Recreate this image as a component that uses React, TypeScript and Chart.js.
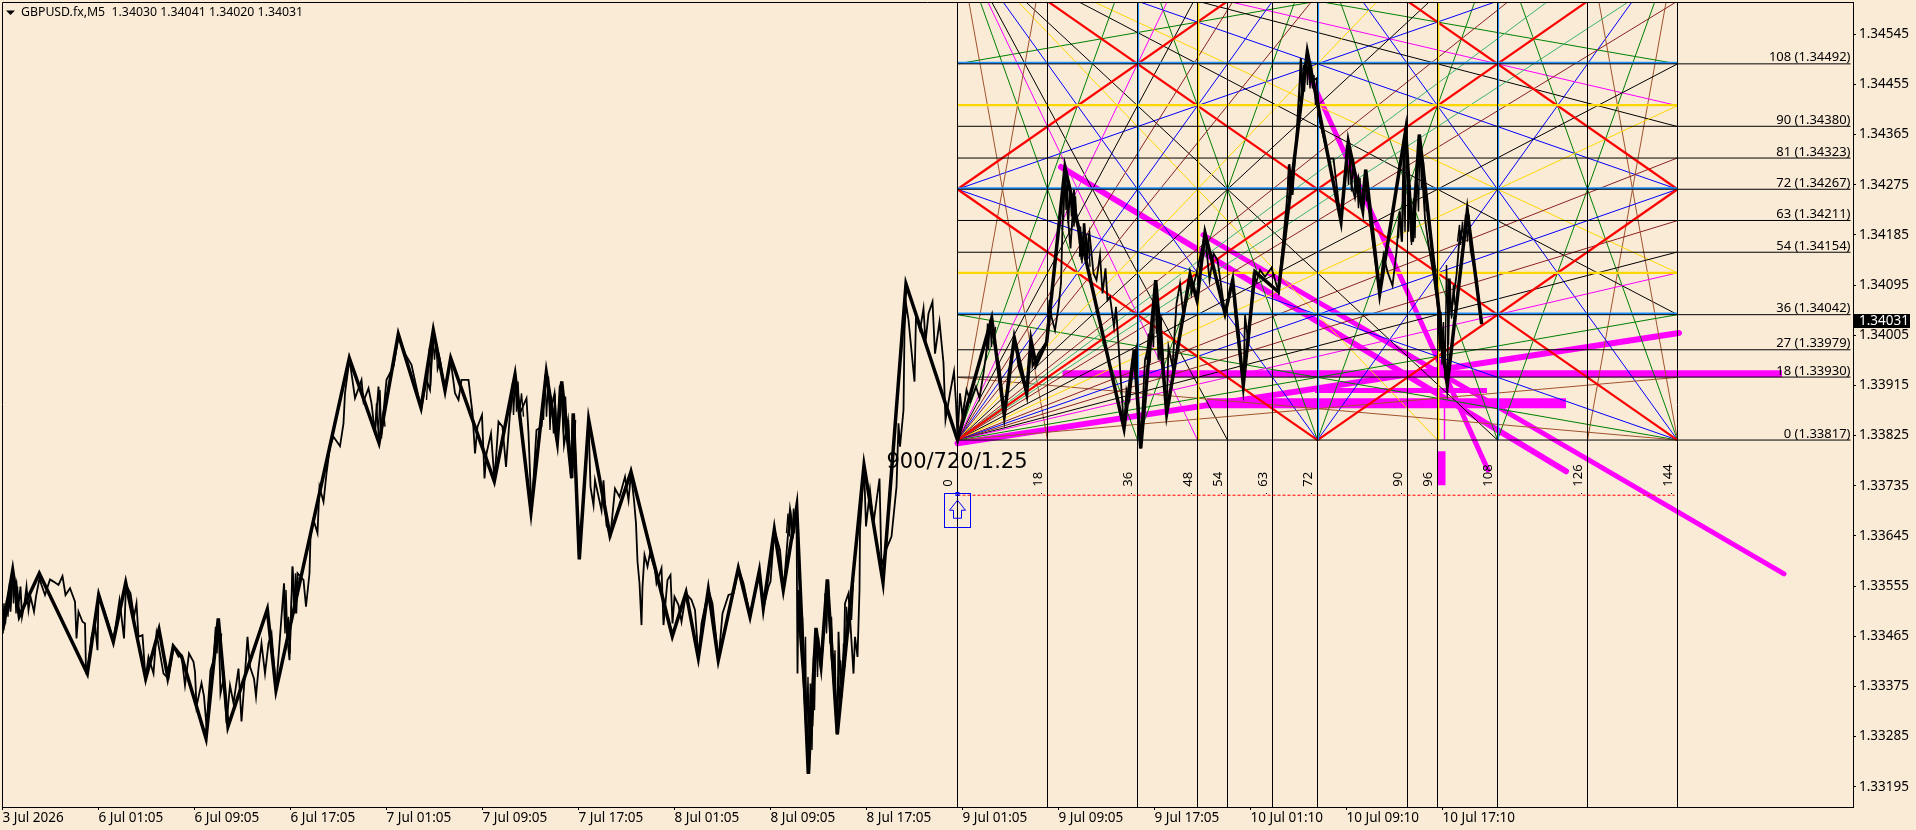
import React, { useEffect, useRef } from "react";
import { Chart, registerables } from "chart.js";

Chart.register(...registerables);

const HEADER = "GBPUSD.fx,M5  1.34030 1.34041 1.34020 1.34031";
const LAST_PRICE = 1.34031;
const ANNOTATION = "900/720/1.25";
const BG = "#FAEBD7";
const FONT = '"Noto Sans"';

const yTicks = [1.34545, 1.34455, 1.34365, 1.34275, 1.34185, 1.34095, 1.34005, 1.33915, 1.33825, 1.33735, 1.33645, 1.33555, 1.33465, 1.33375, 1.33285, 1.33195];
const xTickBars = [0, 96, 192, 288, 384, 480, 576, 672, 768, 864, 960, 1056, 1152, 1248, 1344, 1440];
const xTickLabels = ["3 Jul 2026", "6 Jul 01:05", "6 Jul 09:05", "6 Jul 17:05", "7 Jul 01:05", "7 Jul 09:05", "7 Jul 17:05", "8 Jul 01:05", "8 Jul 09:05", "8 Jul 17:05", "9 Jul 01:05", "9 Jul 09:05", "9 Jul 17:05", "10 Jul 01:10", "10 Jul 09:10", "10 Jul 17:10"];

const levelNumbers = [0, 18, 27, 36, 54, 63, 72, 81, 90, 108];
const levelPrices = [1.33817, 1.3393, 1.33979, 1.34042, 1.34154, 1.34211, 1.34267, 1.34323, 1.3438, 1.34492];
const blueLevels = [1.34042, 1.34267, 1.34492];
const goldLevels = [1.34117, 1.34418];
const timeUnits = [0, 18, 36, 48, 54, 63, 72, 90, 96, 108, 126, 144];
const blueUnits = [36, 72, 108];
const goldUnits = [48, 96];
const GANN_BAR0 = 955;
const BARS_PER_UNIT = 5;
const PRICE_PER_UNIT = 0.0000625;
const GANN_PRICE0 = 1.33817;
const DASH_PRICE = 1.33718;

// Gann fan rays: end of each ray measured in square units, with its colour
const originEnds = [18, 36, 48, 54, 63, 72, 81, 96, 108, 126, 135];
const originColors = ["#A0522D", "#008000", "#FF00FF", "#000000", "#8B2222", "#0000FF", "#8B2222", "#FFD700", "#000000", "#8B2222", "#3CB371"];
const lowRightEnds = [18, 36, 72];
const lowRightColors = ["#A0522D", "#008000", "#0000FF"];
const topLeftDownEnds = [18, 36, 48, 54, 72, 96, 108];
const topLeftDownColors = ["#A0522D", "#008000", "#FF00FF", "#000000", "#0000FF", "#FFD700", "#000000"];
const topLeftRightEnds = [36, 48, 54, 72, 96, 108];
const topLeftRightColors = ["#008000", "#FF00FF", "#000000", "#0000FF", "#FFD700", "#000000"];
const topRightDownEnds = [18, 36, 72];
const topRightDownColors = ["#A0522D", "#008000", "#0000FF"];
const topRightLeftEnds = [36, 72];
const topRightLeftColors = ["#008000", "#0000FF"];
const redLines = [[0, 0, 144, 144], [144, 0, 0, 144], [0, 72, 72, 0], [144, 72, 72, 0], [0, 72, 72, 144], [144, 72, 72, 144]];
const midGreenLines = [[72, 144, 36, 0], [72, 144, 108, 0], [72, 0, 36, 144], [72, 0, 108, 144]];

const magentaBars = [[955, 1676.5], [1060, 1779.5], [1204.5, 1563.5], [1312.5, 1484.5], [1058.5, 1563.5], [1200.5, 1781.5], [1305.5, 1485.5], [1442, 1442], [1439, 1439]];
const magentaPrices = [[1.33811, 1.34009], [1.33936, 1.33936], [1.33883, 1.33883], [1.33906, 1.33906], [1.34307, 1.33761], [1.34185, 1.33577], [1.34477, 1.33763], [1.33876, 1.33817], [1.33797, 1.33736]];
const magentaWidths = [6, 7, 10, 5, 6, 5, 5, 1.5, 8];
const magentaCaps = ["round", "butt", "butt", "butt", "round", "round", "round", "butt", "butt"];

const zigzagBars = [0.2, 10.2, 16.8, 36.8, 84.8, 96.2, 110.8, 123.2, 143.2, 156.5, 165.2, 170.8, 179.2, 203.5, 215.8, 225.5, 264.8, 273.5, 346.8, 376.5, 395.8, 418.5, 430.8, 442.5, 448.2, 491.8, 512.5, 528.5, 543.8, 554.8, 559.2, 569.2, 570.8, 576.8, 586.2, 607.5, 628.5, 669.8, 683.5, 695.8, 705.8, 715.8, 735.8, 747.5, 756.8, 760.8, 771.8, 780.8, 794.2, 805.8, 813.5, 818.5, 824.8, 834.8, 861.5, 880.5, 903.5, 955, 989.2, 1001.8, 1011.8, 1024.2, 1028.5, 1033.5, 1044.2, 1062.5, 1121.5, 1131.8, 1138.2, 1153.2, 1164.2, 1187.5, 1194.5, 1202.5, 1222.5, 1230.2, 1240.8, 1252.5, 1275.8, 1304.8, 1338.5, 1345.8, 1360.2, 1363.2, 1377.2, 1403.2, 1409.8, 1416.8, 1444.8, 1464.8, 1479.2];
const zigzagPrices = [1.33476, 1.33583, 1.33501, 1.33578, 1.33398, 1.33539, 1.33455, 1.33561, 1.33389, 1.33477, 1.33392, 1.33447, 1.33428, 1.33282, 1.33497, 1.33303, 1.33513, 1.33368, 1.33964, 1.33812, 1.34007, 1.33875, 1.34014, 1.33906, 1.33964, 1.33743, 1.33934, 1.33688, 1.33938, 1.33814, 1.33922, 1.33749, 1.33865, 1.33603, 1.33853, 1.33646, 1.3376, 1.33465, 1.33543, 1.33426, 1.33548, 1.33422, 1.33587, 1.335, 1.33582, 1.33516, 1.33656, 1.33548, 1.33697, 1.33218, 1.3348, 1.33413, 1.33567, 1.33289, 1.33772, 1.33562, 1.34097, 1.33817, 1.34035, 1.33862, 1.34, 1.33901, 1.33996, 1.33952, 1.33993, 1.34306, 1.33838, 1.33979, 1.33802, 1.34104, 1.33865, 1.34113, 1.34068, 1.34188, 1.34044, 1.34104, 1.33916, 1.34119, 1.34083, 1.34513, 1.3421, 1.34352, 1.3423, 1.34302, 1.3408, 1.34373, 1.34173, 1.34365, 1.33916, 1.34227, 1.34025];

const closeBars = [0.2, 1, 2, 4, 6, 8, 10, 12.5, 14, 16, 18, 19.5, 22, 24, 26, 28, 31.5, 33.5, 37, 39, 42.5, 47.5, 51, 56, 60, 63, 67.5, 72.5, 74, 76, 80, 82.5, 83.5, 86, 89, 92.5, 95, 96, 101, 106, 111, 117, 121.5, 123.5, 128, 131.5, 134, 136, 140, 143, 146, 151, 154, 161, 166, 171, 176, 179, 182.5, 186.5, 191, 192.5, 194, 199, 201.5, 204, 208, 211, 216, 218, 221.5, 224, 227.5, 231, 236, 239, 242.5, 245, 247.5, 251.5, 253.5, 256, 259, 262.5, 266, 269, 273.5, 277.5, 281.5, 283.5, 287, 290, 292.5, 295,
  301, 303.5, 307, 308, 311, 315, 317, 321, 324, 327.5, 331, 337.5, 341, 342.5, 347, 352.5, 359, 361, 366, 369, 372.5, 376, 379, 384, 391, 396, 402.5, 409, 416, 419, 424, 427.5, 431, 437.5, 442.5, 448, 452.5, 456, 459, 466, 470, 472.5, 475, 479.5, 482, 484, 488.5, 492, 496, 500, 503.5, 507.5, 513, 517.5, 524, 526, 529, 534, 539, 544, 548, 552, 555, 558.5, 561.5, 565.5, 569, 571, 573.5, 575, 576.5,
  581.5, 586, 588, 591, 592.5, 599, 601, 604, 608, 612.5, 617, 622.5, 626, 628.5, 631.5, 633.5, 635, 637, 639, 640, 642, 645, 647.5, 652.5, 654, 659, 661, 665, 668, 670, 672, 676, 679, 683.5, 689, 692.5, 696, 699, 706, 710, 716, 720, 726, 731, 736, 741, 747.5, 754, 757, 761, 766, 768, 772, 777.5, 781, 784, 787.5, 791, 794,
  795, 796, 797.5, 801.5, 804, 806, 808, 810, 813.5, 818.5, 825, 829, 832.5, 835, 836, 838, 841.5, 842.5, 846, 851, 852.5, 855, 857, 857.5, 861.5, 863.5, 867.5, 871, 877, 879, 883.5, 889, 894, 896, 897.5, 901, 902, 903.5, 906, 912, 913.5, 917.5, 921, 923, 926, 930, 932.5, 937, 941, 943, 947.5, 951.5, 953.5, 955,
  957.5, 960, 964, 968, 973.5, 977, 981, 986, 989, 992.5, 997, 1002, 1006, 1012, 1016, 1024, 1028.5, 1030, 1036, 1044, 1047, 1049, 1052.5, 1056, 1058.5, 1060, 1062.5, 1065, 1068, 1071.5, 1074, 1079, 1082, 1084, 1087, 1091, 1094, 1097.5, 1100, 1103, 1105, 1107.5, 1111.5, 1113.5, 1121.5, 1124, 1127, 1131, 1133.5, 1138, 1142.5, 1147.5, 1153, 1156, 1158, 1164, 1166, 1170, 1174, 1177.5, 1181, 1187.5, 1189, 1194, 1202.5, 1207, 1211, 1215, 1222.5, 1230,
  1234, 1241, 1242.5, 1246, 1251, 1254, 1257.5, 1262.5, 1269, 1276, 1279, 1284, 1287, 1290, 1294, 1298.5, 1300, 1305, 1309, 1314, 1317.5, 1326, 1331, 1336, 1338.5, 1342, 1346, 1349, 1352.5, 1356, 1360, 1363, 1367.5, 1377, 1381, 1385, 1390, 1394, 1397, 1399.5, 1403, 1406, 1410, 1417, 1422.5, 1426, 1431, 1436, 1438, 1445, 1446, 1449, 1454, 1457.5, 1461, 1465, 1469, 1474, 1479];
const closePrices = [1.3347, 1.33503, 1.33485, 1.33524, 1.33542, 1.33509, 1.33581, 1.33548, 1.3356, 1.33521, 1.33554, 1.335, 1.33524, 1.33554, 1.33512, 1.33536, 1.33509, 1.33536, 1.33569, 1.33557, 1.33539, 1.33567, 1.33563, 1.33557, 1.33573, 1.33539, 1.33551, 1.33527, 1.33461, 1.33509, 1.33491, 1.33488, 1.33404, 1.33416, 1.33464, 1.33488, 1.3344, 1.33536, 1.33515, 1.33488, 1.33458, 1.3353, 1.33461, 1.33557, 1.33542, 1.335, 1.33524, 1.33464, 1.33467, 1.33389, 1.33428, 1.33398, 1.3347, 1.33398, 1.33389, 1.33447, 1.33428, 1.33431, 1.33377, 1.33434, 1.33419, 1.33401, 1.33339, 1.33381, 1.33357, 1.33303, 1.33404, 1.33422, 1.33494, 1.33362, 1.33392, 1.33309, 1.33377, 1.33345, 1.33407, 1.33312, 1.33398, 1.33464, 1.3341, 1.33389, 1.33357, 1.33407, 1.33452, 1.33398, 1.33452, 1.3347, 1.33368, 1.33464, 1.3356, 1.33488, 1.33422, 1.3359, 1.33506, 1.33578,
  1.33566, 1.33518, 1.33578, 1.33644, 1.33674, 1.3365, 1.33733, 1.33706, 1.33757, 1.33805, 1.33823, 1.33806, 1.33847, 1.33901, 1.33962, 1.33892, 1.33925, 1.33886, 1.3391, 1.33883, 1.33829, 1.33913, 1.33829, 1.33925, 1.33949, 1.34005, 1.33972, 1.33952, 1.33895, 1.33876, 1.33925, 1.33907, 1.34011, 1.33961, 1.33907, 1.33962, 1.33901, 1.33889, 1.33925, 1.33925, 1.33865, 1.33793, 1.33841, 1.33862, 1.33748, 1.33793, 1.33829, 1.33745, 1.3385, 1.33841, 1.33769, 1.33865, 1.33932, 1.33865, 1.33892, 1.33829, 1.33688, 1.33835, 1.33841, 1.33937, 1.33865, 1.33901, 1.33814, 1.33922, 1.33808, 1.33853, 1.33748, 1.33862, 1.33769, 1.33673, 1.33605,
  1.33727, 1.33853, 1.33733, 1.337, 1.33745, 1.33691, 1.33745, 1.33664, 1.33647, 1.3373, 1.33715, 1.33751, 1.33709, 1.33757, 1.33709, 1.33667, 1.33599, 1.3356, 1.33485, 1.33554, 1.33611, 1.3359, 1.33614, 1.33584, 1.3356, 1.33587, 1.33485, 1.33566, 1.33575, 1.33488, 1.33536, 1.33521, 1.33491, 1.33542, 1.3353, 1.33512, 1.33425, 1.33488, 1.33548, 1.33524, 1.33422, 1.33506, 1.33539, 1.33542, 1.33587, 1.3356, 1.33503, 1.33554, 1.33581, 1.33515, 1.33554, 1.33563, 1.33656, 1.3362, 1.33548, 1.33614, 1.33694, 1.3365, 1.33697,
  1.33398, 1.33548, 1.33464, 1.33368, 1.33285, 1.33218, 1.3338, 1.33303, 1.33479, 1.33404, 1.33566, 1.33428, 1.33362, 1.33289, 1.33473, 1.3338, 1.3344, 1.33524, 1.33542, 1.33398, 1.33464, 1.33428, 1.33548, 1.33656, 1.33769, 1.33662, 1.33727, 1.33668, 1.33748, 1.3359, 1.3362, 1.33644, 1.33733, 1.33847, 1.33805, 1.33871, 1.34014, 1.34062, 1.34032, 1.33922, 1.34038, 1.34014, 1.34053, 1.33993, 1.34044, 1.34065, 1.33972, 1.34029, 1.33955, 1.33853, 1.33901, 1.3394, 1.33883, 1.33823,
  1.33901, 1.33859, 1.33907, 1.33886, 1.33913, 1.33892, 1.33937, 1.34002, 1.34032, 1.33984, 1.33949, 1.33862, 1.33937, 1.34, 1.33949, 1.33901, 1.33996, 1.33949, 1.33973, 1.33993, 1.34068, 1.34038, 1.34014, 1.34056, 1.34098, 1.342, 1.34304, 1.34224, 1.34161, 1.34266, 1.34218, 1.3414, 1.34206, 1.34152, 1.34188, 1.34116, 1.34104, 1.34149, 1.3408, 1.34125, 1.34068, 1.34074, 1.3402, 1.34056, 1.33838, 1.33907, 1.33889, 1.33955, 1.33979, 1.33802, 1.33961, 1.33996, 1.34104, 1.33961, 1.34038, 1.33868, 1.33984, 1.33949, 1.34062, 1.34098, 1.34038, 1.34113, 1.3408, 1.34116, 1.34187, 1.34104, 1.34152, 1.3414, 1.34044, 1.34104,
  1.34017, 1.33916, 1.34041, 1.33988, 1.34113, 1.34101, 1.34122, 1.3411, 1.34126, 1.34083, 1.34143, 1.34239, 1.34312, 1.34257, 1.34364, 1.34502, 1.34454, 1.34513, 1.3446, 1.34466, 1.34388, 1.34322, 1.34322, 1.34245, 1.34211, 1.34287, 1.34352, 1.34275, 1.34251, 1.34287, 1.3423, 1.34302, 1.34209, 1.3408, 1.34149, 1.34119, 1.34094, 1.34155, 1.34227, 1.34173, 1.34373, 1.34263, 1.34173, 1.34365, 1.34215, 1.34167, 1.34113, 1.34047, 1.33987, 1.33916, 1.34107, 1.34047, 1.34113, 1.34191, 1.34173, 1.34227, 1.34149, 1.34107, 1.34025];

// Dense stretches of the 5-minute line
const burstBars = [
  [0.2, 1.5, 3, 4, 5.5, 7, 8, 9.5, 11, 12, 13.5, 15, 16],
  [211.5, 213, 214.5, 216, 217.5, 219],
  [281, 282.5, 283.5, 285, 286, 287.5, 289, 290, 291.5, 293, 294, 295.5],
  [371, 372.5, 374, 376, 377.5, 379, 381, 382.5],
  [424, 427, 428, 430, 432, 433.5, 435, 437],
  [508, 510, 511, 513, 514, 515.5, 517, 519, 521],
  [541, 542.5, 544, 546, 547.5, 549, 551, 552.5, 554, 557, 559, 561, 563, 565, 566, 568, 570, 571.5, 573],
  [784, 785.5, 787, 788, 789.5, 791, 792, 793.5, 795],
  [797.5, 799, 800, 801.5, 803, 804, 805.5, 807, 808, 809.5, 811, 812, 813.5, 815, 816, 817.5],
  [822.5, 824, 826, 827.5, 829, 831, 832.5, 834, 835.5, 837, 838, 839.5, 841, 842.5, 844, 846, 847.5, 849, 851],
  [983.5, 985, 986, 987.5, 989, 990, 991.5, 993],
  [1061, 1062.5, 1063.5, 1065, 1066, 1067.5, 1069, 1070, 1071.5, 1073, 1074],
  [1077, 1078, 1079.5, 1081, 1082, 1083.5, 1085, 1086, 1087.5],
  [1144, 1146, 1147.5, 1149, 1151, 1152.5, 1154, 1156, 1157.5, 1159],
  [1285, 1286, 1287.5, 1289, 1290, 1291.5],
  [1297, 1298, 1299.5, 1301, 1302, 1303.5, 1305, 1306, 1307.5, 1309, 1310, 1311.5, 1313],
  [1342.5, 1344, 1346, 1347.5, 1349, 1351, 1352.5, 1354, 1356, 1357.5, 1359, 1361, 1362.5, 1364],
  [1396, 1397.5, 1399, 1401, 1402.5, 1404, 1406, 1407.5, 1409, 1411, 1412.5, 1414, 1416, 1417.5, 1419, 1421, 1422.5],
  [1435, 1437, 1438.5, 1439.5, 1441, 1442.5, 1444, 1446, 1447.5, 1449, 1451, 1452.5],
  [1455, 1457, 1458, 1460, 1461.5, 1463, 1465, 1466.5, 1468],
];
const burstPrices = [
  [1.3347, 1.33524, 1.33488, 1.3353, 1.335, 1.3356, 1.33518, 1.33578, 1.33524, 1.33572, 1.33506, 1.33554, 1.33512],
  [1.3344, 1.33482, 1.33434, 1.33494, 1.33428, 1.3347],
  [1.33536, 1.3347, 1.33548, 1.33464, 1.335, 1.33434, 1.3353, 1.3359, 1.33518, 1.33578, 1.33506, 1.33572],
  [1.33853, 1.33826, 1.33883, 1.33823, 1.33907, 1.3382, 1.33871, 1.33841],
  [1.33889, 1.33984, 1.33913, 1.34008, 1.33961, 1.33996, 1.33943, 1.33955],
  [1.33865, 1.33919, 1.33862, 1.33931, 1.33868, 1.33922, 1.33865, 1.33901, 1.33859],
  [1.33853, 1.33934, 1.33859, 1.33931, 1.33835, 1.33895, 1.33829, 1.33901, 1.33817, 1.33913, 1.33919, 1.33829, 1.33895, 1.33811, 1.33853, 1.33757, 1.33862, 1.33775, 1.33853],
  [1.3365, 1.33685, 1.33644, 1.33691, 1.33641, 1.33694, 1.3365, 1.33697, 1.3365],
  [1.33548, 1.3344, 1.335, 1.33362, 1.33464, 1.33285, 1.33392, 1.33219, 1.33362, 1.33261, 1.33428, 1.33332, 1.33476, 1.33392, 1.33464, 1.33416],
  [1.33542, 1.3347, 1.33566, 1.33452, 1.335, 1.3338, 1.3344, 1.33291, 1.33392, 1.33339, 1.33422, 1.33356, 1.33452, 1.3341, 1.33518, 1.3347, 1.3353, 1.33494, 1.33566],
  [1.33961, 1.34026, 1.33979, 1.34032, 1.33984, 1.34032, 1.3399, 1.3402],
  [1.34212, 1.34301, 1.3423, 1.34283, 1.34206, 1.34266, 1.34218, 1.3426, 1.342, 1.34254, 1.34206],
  [1.34146, 1.342, 1.34134, 1.34206, 1.34146, 1.34188, 1.3414, 1.34188, 1.34128],
  [1.33961, 1.34008, 1.33955, 1.3402, 1.33984, 1.34104, 1.34008, 1.34056, 1.33961, 1.34038],
  [1.34251, 1.34311, 1.34263, 1.34299, 1.34257, 1.34305],
  [1.34424, 1.34502, 1.34436, 1.3449, 1.34442, 1.34508, 1.34454, 1.34508, 1.34448, 1.3449, 1.34448, 1.34472, 1.34418],
  [1.34281, 1.34346, 1.34275, 1.34328, 1.34263, 1.34322, 1.34257, 1.34293, 1.34233, 1.34287, 1.3423, 1.34281, 1.34299, 1.34245],
  [1.34179, 1.34227, 1.34173, 1.34346, 1.34191, 1.3437, 1.34191, 1.34275, 1.34167, 1.34251, 1.34179, 1.34316, 1.34227, 1.34364, 1.34269, 1.34316, 1.34227],
  [1.34059, 1.33976, 1.34047, 1.33952, 1.34029, 1.33928, 1.34131, 1.33988, 1.34107, 1.34035, 1.34095, 1.34059],
  [1.34173, 1.34203, 1.34167, 1.34209, 1.34167, 1.34221, 1.34173, 1.34221, 1.34155],
];

const zip = (xs: number[], ys: number[]) => xs.map((x, i) => ({ x, y: ys[i] }));
const ux = (u: number) => GANN_BAR0 + BARS_PER_UNIT * u;
const up = (l: number) => GANN_PRICE0 + PRICE_PER_UNIT * l;

const Y_MIN = 1.331586;
const Y_MAX = 1.34603;
const X_MIN = -0.5;
const X_MAX = 1850.5;
const LEVEL_END_BAR = 1848;

function buildDatasets() {
  const ds: any[] = [];
  const line = (data: any[], color: string, width: number, order: number, extra: any = {}) =>
    ds.push({ data, borderColor: color, backgroundColor: color, borderWidth: width, pointRadius: 0, tension: 0, order, borderJoinStyle: "miter", ...extra });
  const seg = (a: number, b: number, c: number, d: number, color: string, width = 1, order = 30) =>
    line([{ x: ux(a), y: up(b) }, { x: ux(c), y: up(d) }], color, width, order);

  magentaBars.forEach((bars, i) =>
    line(zip(bars, magentaPrices[i]), "#FF00FF", magentaWidths[i], 40, { borderCapStyle: magentaCaps[i] })
  );

  originEnds.forEach((e, i) => { seg(0, 0, e, 144, originColors[i]); seg(0, 0, 144, e, originColors[i]); });
  lowRightEnds.forEach((e, i) => { seg(144, 0, 144 - e, 144, lowRightColors[i]); seg(144, 0, 0, e, lowRightColors[i]); });
  topLeftDownEnds.forEach((e, i) => seg(0, 144, e, 0, topLeftDownColors[i]));
  topLeftRightEnds.forEach((e, i) => seg(0, 144, 144, 144 - e, topLeftRightColors[i]));
  topRightDownEnds.forEach((e, i) => seg(144, 144, 144 - e, 0, topRightDownColors[i]));
  topRightLeftEnds.forEach((e, i) => seg(144, 144, 0, 144 - e, topRightLeftColors[i]));
  midGreenLines.forEach(([a, b, c, d]) => seg(a, b, c, d, "#008000"));
  redLines.forEach(([a, b, c, d]) => seg(a, b, c, d, "#FF0000", 2.2, 25));

  goldLevels.forEach((p) => line([{ x: ux(0), y: p }, { x: ux(144), y: p }], "#FFD700", 2.2, 20));
  blueLevels.forEach((p) => line([{ x: ux(0), y: p + 0.00002 }, { x: ux(144), y: p + 0.00002 }], "#1E90FF", 2, 20));
  blueUnits.forEach((u) => line([{ x: ux(u) + 0.6, y: up(0) }, { x: ux(u) + 0.6, y: Y_MAX }], "#1E90FF", 2, 20));
  goldUnits.forEach((u) => line([{ x: ux(u) + 1, y: up(0) }, { x: ux(u) + 1, y: Y_MAX }], "#FFD700", 1.6, 20));
  levelPrices.forEach((p) => line([{ x: ux(0), y: p }, { x: LEVEL_END_BAR, y: p }], "#000000", 1, 15));
  timeUnits.forEach((u) => line([{ x: ux(u), y: Y_MIN }, { x: ux(u), y: Y_MAX }], "#000000", 1, 15));
  line([{ x: ux(0), y: DASH_PRICE }, { x: ux(143.4), y: DASH_PRICE }], "#FF0000", 1, 14, { borderDash: [3, 2] });

  burstBars.forEach((bars, i) => line(zip(bars, burstPrices[i]), "#000000", 1.4, 4));
  line(zip(closeBars, closePrices), "#000000", 1.8, 3);
  line(zip(zigzagBars, zigzagPrices), "#000000", 3.5, 2);
  return ds;
}

const annotationPlugin = {
  id: "annotations",
  beforeDraw(chart: any) {
    const { ctx, width, height } = chart;
    ctx.save();
    ctx.fillStyle = BG;
    ctx.fillRect(0, 0, width, height);
    ctx.restore();
  },
  afterDraw(chart: any) {
    const { ctx, chartArea: a, scales } = chart;
    const X = (v: number) => scales.x.getPixelForValue(v);
    const Y = (v: number) => scales.y.getPixelForValue(v);
    ctx.save();
    // frame
    ctx.strokeStyle = "#000";
    ctx.lineWidth = 1;
    ctx.beginPath();
    ctx.moveTo(a.left + 0.5, a.bottom);
    ctx.lineTo(a.left + 0.5, a.top + 0.5);
    ctx.lineTo(a.right, a.top + 0.5);
    ctx.stroke();

    const font = `13px ${FONT}`;
    ctx.font = `12.3px ${FONT}`;
    ctx.fillStyle = "#000";
    ctx.textBaseline = "middle";
    ctx.textAlign = "left";
    // header
    ctx.beginPath();
    ctx.moveTo(6, 10.5);
    ctx.lineTo(15, 10.5);
    ctx.lineTo(10.5, 15);
    ctx.closePath();
    ctx.fill();
    ctx.fillText(HEADER, 21, 12.5);

    // level labels
    ctx.font = font;
    ctx.textAlign = "right";
    ctx.textBaseline = "alphabetic";
    levelNumbers.forEach((n, i) => {
      ctx.fillText(`${n} (${levelPrices[i].toFixed(5)})`, 1850.5, Y(levelPrices[i]) - 2.5);
    });

    // time labels
    const dashY = Y(DASH_PRICE);
    timeUnits.forEach((u) => {
      ctx.save();
      ctx.translate(X(ux(u)) - 6, dashY - 8.5);
      ctx.rotate(-Math.PI / 2);
      ctx.textAlign = "left";
      ctx.textBaseline = "alphabetic";
      ctx.font = font;
      ctx.fillText(String(u), 0, 0);
      ctx.restore();
      ctx.fillRect(Math.round(X(ux(u)) - 7), Math.round(dashY - 2), 1, 1);
    });

    // big annotation
    ctx.font = `21px "DejaVu Sans"`;
    ctx.textAlign = "center";
    ctx.textBaseline = "middle";
    ctx.fillText(ANNOTATION, 957, Y(GANN_PRICE0) + 22);

    // arrow object
    const cx = X(ux(0));
    const top = dashY - 2;
    ctx.strokeStyle = "#0000FF";
    ctx.lineWidth = 1;
    ctx.strokeRect(Math.round(cx - 13) + 0.5, Math.round(top) + 0.5, 26, 34);
    ctx.strokeRect(cx - 1.5, Math.round(top) - 1 + 0.5, 3, 3);
    ctx.beginPath();
    ctx.moveTo(cx, top + 7);
    ctx.lineTo(cx + 8, top + 17);
    ctx.lineTo(cx + 4, top + 17);
    ctx.lineTo(cx + 4, top + 25);
    ctx.lineTo(cx - 4, top + 25);
    ctx.lineTo(cx - 4, top + 17);
    ctx.lineTo(cx - 8, top + 17);
    ctx.closePath();
    ctx.stroke();

    // last price tag
    const ly = Y(LAST_PRICE);
    ctx.fillStyle = "#000";
    ctx.fillRect(1854, Math.round(ly) - 7, 56, 14);
    ctx.fillStyle = "#FFF";
    ctx.font = `13.5px ${FONT}`;
    ctx.textAlign = "left";
    ctx.textBaseline = "middle";
    ctx.fillText(LAST_PRICE.toFixed(5), 1859, ly);
    ctx.restore();
  },
};

export default function App() {
  const ref = useRef<HTMLCanvasElement | null>(null);
  useEffect(() => {
    document.body.style.margin = "0";
    document.body.style.background = BG;
    const chart = new Chart(ref.current as HTMLCanvasElement, {
      type: "line",
      data: { datasets: buildDatasets() },
      plugins: [annotationPlugin],
      options: {
        animation: false,
        responsive: false,
        devicePixelRatio: 1,
        parsing: false,
        normalized: true,
        spanGaps: true,
        layout: { padding: { left: 2, top: 2, right: 0, bottom: 0 } },
        plugins: { legend: { display: false }, title: { display: false }, tooltip: { enabled: false }, decimation: { enabled: false } },
        scales: {
          x: {
            type: "linear",
            min: X_MIN,
            max: X_MAX,
            afterBuildTicks: (s: any) => { s.ticks = xTickBars.map((value) => ({ value })); },
            afterFit: (s: any) => { s.height = 23; s.paddingLeft = 0; s.paddingRight = 0; },
            grid: { drawOnChartArea: false, color: "#000", tickLength: 3, tickWidth: 1 },
            border: { display: true, color: "#000", width: 1 },
            ticks: {
              align: "start",
              autoSkip: false,
              maxRotation: 0,
              padding: 0,
              color: "#000",
              font: { family: FONT, size: 13.5 },
              callback: (v: any) => xTickLabels[xTickBars.indexOf(v)] ?? "",
            },
          },
          y: {
            type: "linear",
            position: "right",
            min: Y_MIN,
            max: Y_MAX,
            afterBuildTicks: (s: any) => { s.ticks = yTicks.map((value) => ({ value })); },
            afterFit: (s: any) => { s.width = 63; s.paddingTop = 0; s.paddingBottom = 0; },
            grid: { drawOnChartArea: false, color: "#000", tickLength: 3, tickWidth: 1 },
            border: { display: true, color: "#000", width: 1 },
            ticks: {
              autoSkip: false,
              padding: 3,
              color: "#000",
              font: { family: FONT, size: 13.5 },
              callback: (v: any) => Number(v).toFixed(5),
            },
          },
        },
      } as any,
    });
    return () => chart.destroy();
  }, []);
  return <canvas ref={ref} width={1916} height={830} style={{ display: "block", width: 1916, height: 830 }} />;
}
